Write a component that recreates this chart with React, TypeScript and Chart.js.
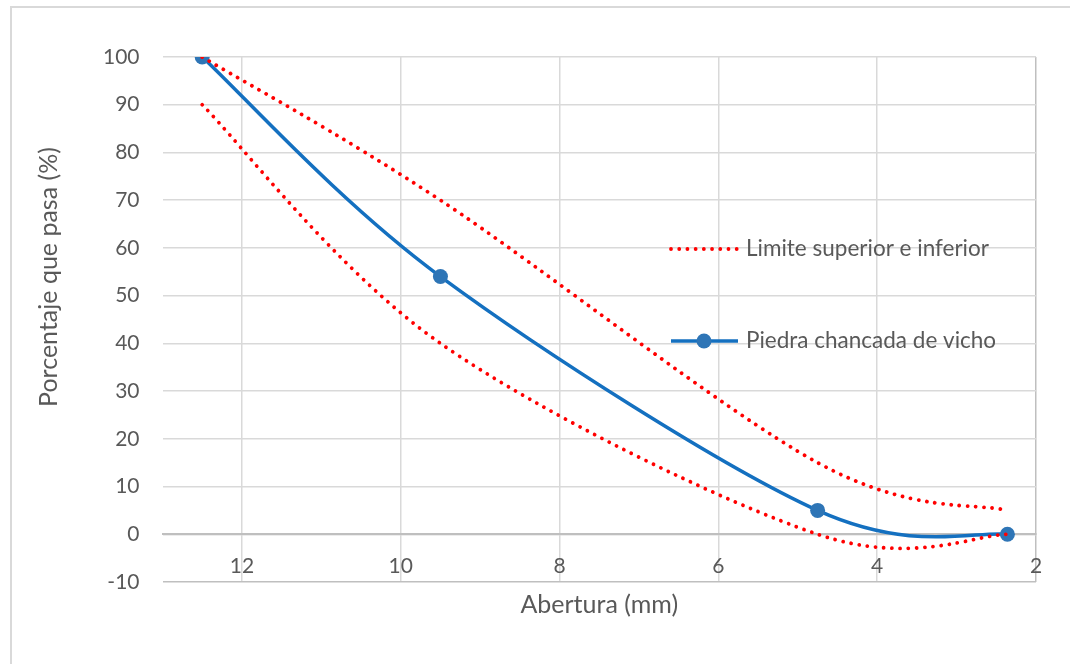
import React, { useEffect, useRef } from "react";
import { Chart, registerables } from "chart.js";

Chart.register(...registerables);

// ---- data ----
const sieveSizes = [12.5, 9.5, 4.75, 2.36];
const piedraValues = [100, 54, 5, 0];
const upperLimit = [100, 70, 15, 5];
const lowerLimit = [90, 40, 0, 0];
const xTickValues = [2, 4, 6, 8, 10, 12];

const LIMIT_LABEL = "Limite superior e inferior";
const PIEDRA_LABEL = "Piedra chancada de vicho";
const X_TITLE = "Abertura (mm)";
const Y_TITLE = "Porcentaje que pasa (%)";

const FONT = "Lato, 'Open Sans', sans-serif";
const TEXT = "#595959";
const GRID = "#d9d9d9";
const AXIS = "#bfbfbf";
const RED = "#ff0000";
const BLUE_LINE = "#1470c0";
const BLUE_MARK = "#2e75b6";

const toPoints = (ys: number[]) => sieveSizes.map((x, i) => ({ x, y: ys[i] }));

// Office-style smoothing: Catmull-Rom control points (1/6 of neighbour chord), in pixel space
const smoothPlugin = {
  id: "officeSmooth",
  beforeDatasetsDraw(chart: any) {
    chart.data.datasets.forEach((_: any, di: number) => {
      const meta = chart.getDatasetMeta(di);
      const pts = meta.data as any[];
      const n = pts.length;
      for (let i = 0; i < n; i++) {
        const p = pts[i];
        const prev = pts[Math.max(i - 1, 0)];
        const next = pts[Math.min(i + 1, n - 1)];
        const tx = (next.x - prev.x) / 6;
        const ty = (next.y - prev.y) / 6;
        p.cp1x = p.x - tx;
        p.cp1y = p.y - ty;
        p.cp2x = p.x + tx;
        p.cp2y = p.y + ty;
      }
      if (meta.dataset) meta.dataset._pointsUpdated = true;
    });
  },
};

const overlayPlugin = {
  id: "overlay",
  afterDraw(chart: any) {
    const ctx = chart.ctx as CanvasRenderingContext2D;
    // y axis title
    ctx.save();
    ctx.translate(49, 277);
    ctx.rotate(-Math.PI / 2);
    ctx.font = `25px ${FONT}`;
    ctx.fillStyle = TEXT;
    ctx.textAlign = "center";
    ctx.textBaseline = "middle";
    ctx.fillText(Y_TITLE, 0, 0);
    ctx.restore();

    // legend
    const ds = chart.data.datasets;
    const items = [
      { d: ds[0], y: 249 },
      { d: ds[2], y: 341 },
    ];
    items.forEach(({ d, y }) => {
      ctx.save();
      ctx.strokeStyle = d.borderColor;
      ctx.lineWidth = d.borderWidth;
      ctx.lineCap = d.borderCapStyle || "butt";
      ctx.setLineDash(d.borderDash || []);
      ctx.beginPath();
      ctx.moveTo(671, y);
      ctx.lineTo(738, y);
      ctx.stroke();
      ctx.setLineDash([]);
      if (d.pointRadius > 0) {
        ctx.fillStyle = d.pointBackgroundColor;
        ctx.beginPath();
        ctx.arc(704, y, d.pointRadius, 0, Math.PI * 2);
        ctx.fill();
      }
      ctx.font = `22.5px ${FONT}`;
      ctx.fillStyle = TEXT;
      ctx.textAlign = "left";
      ctx.textBaseline = "middle";
      ctx.fillText(d.label, 746, y);
      ctx.restore();
    });
  },
};

export default function App() {
  const canvasRef = useRef<HTMLCanvasElement | null>(null);

  useEffect(() => {
    if (!canvasRef.current) return;
    const dotted = {
      borderColor: RED,
      borderWidth: 3.8,
      borderDash: [0.01, 8.2],
      borderCapStyle: "round",
      pointRadius: 0,
      pointHoverRadius: 0,
      tension: 0.4,
      fill: false,
    };
    const chart = new Chart(canvasRef.current, {
      type: "line",
      data: {
        datasets: [
          { label: LIMIT_LABEL, data: toPoints(upperLimit), ...dotted } as any,
          { label: LIMIT_LABEL, data: toPoints(lowerLimit), ...dotted } as any,
          {
            label: PIEDRA_LABEL,
            data: toPoints(piedraValues),
            borderColor: BLUE_LINE,
            borderWidth: 3.5,
            pointRadius: 7.5,
            pointBackgroundColor: BLUE_MARK,
            pointBorderColor: BLUE_MARK,
            pointBorderWidth: 0,
            tension: 0.4,
            fill: false,
          } as any,
        ],
      },
      options: {
        animation: false,
        responsive: false,
        devicePixelRatio: 1,
        layout: { padding: { left: 0, right: 34, top: 57, bottom: 0 } },
        plugins: {
          legend: { display: false },
          tooltip: { enabled: false },
          title: {
            display: true,
            position: "bottom",
            fullSize: false,
            text: X_TITLE,
            color: TEXT,
            font: { family: FONT, size: 25, weight: "normal", lineHeight: 1.2 },
            padding: { top: 8, bottom: 44 },
          },
        },
        scales: {
          x: {
            type: "linear",
            reverse: true,
            min: 2,
            max: 13,
            position: { y: 0 } as any,
            afterBuildTicks: (s: any) => {
              s.ticks = xTickValues.map((v) => ({ value: v }));
            },
            grid: {
              color: (c: any) => (c.tick && c.tick.value === xTickValues[0] ? AXIS : GRID),
              lineWidth: 1.5,
              drawTicks: false,
            },
            border: { color: AXIS, width: 2 },
            ticks: {
              color: TEXT,
              padding: 19,
              font: { family: FONT, size: 21 },
              maxRotation: 0,
            },
          },
          y: {
            type: "linear",
            min: -10,
            max: 100,
            afterFit: (s: any) => {
              s.width = 162.5;
            },
            grid: {
              color: (c: any) => (c.tick && c.tick.value === -10 ? AXIS : GRID),
              lineWidth: 1.5,
              drawTicks: false,
            },
            border: { display: false },
            ticks: {
              stepSize: 10,
              color: TEXT,
              padding: 23,
              font: { family: FONT, size: 21 },
            },
          },
        },
      },
      plugins: [smoothPlugin, overlayPlugin],
    });
    return () => chart.destroy();
  }, []);

  return (
    <div style={{ position: "fixed", left: 0, top: 0, width: 1070, height: 664, background: "#fff", overflow: "hidden" }}>
      <div
        style={{
          position: "absolute",
          left: 10,
          top: 6,
          width: 1100,
          height: 700,
          border: "2px solid #d9d9d9",
        }}
      />
      <canvas
        ref={canvasRef}
        width={1070}
        height={664}
        style={{ position: "absolute", left: 0, top: 0, width: 1070, height: 664 }}
      />
    </div>
  );
}
